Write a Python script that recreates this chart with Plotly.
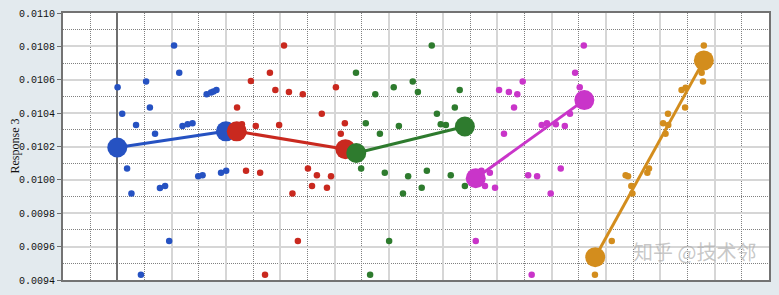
import plotly.graph_objects as go

# ---------------- data ----------------
blue_x = [0.01, 0.18, 0.69, 1.06, 1.20, 1.39, 2.09, 2.28, 2.40, 2.59, 2.77, 3.29, 3.45, 3.54, 3.65,
          0.36, 0.52, 1.57, 1.76, 1.91, 0.87, 2.98, 3.14, 3.82, 4.01]
blue_y = [0.010555, 0.010397, 0.010329, 0.010590, 0.010434, 0.010277, 0.010805, 0.010642, 0.010323,
          0.010333, 0.010339, 0.010513, 0.010523, 0.010530, 0.010538, 0.010068, 0.009918, 0.009951,
          0.009964, 0.009634, 0.009431, 0.010022, 0.010028, 0.010043, 0.010055]

red_x = [4.41, 4.59, 4.92, 5.10, 4.74, 5.26, 6.14, 5.62, 5.82, 6.32, 6.83, 5.96, 7.53, 8.05, 8.38,
         8.23, 7.02, 7.35, 7.87, 7.17, 7.72, 6.45, 6.65, 5.44]
red_y = [0.010434, 0.010333, 0.010592, 0.010323, 0.010055, 0.010043, 0.010805, 0.010642, 0.010538,
         0.010526, 0.010513, 0.010329, 0.010397, 0.010555, 0.010339, 0.010277, 0.010068, 0.010028,
         0.010022, 0.009964, 0.009953, 0.009918, 0.009634, 0.009431]

green_x = [11.58, 8.79, 9.50, 10.18, 10.88, 11.07, 12.61, 12.43, 11.77, 9.15, 9.67, 10.37, 11.91, 12.10,
           8.98, 9.85, 10.71, 11.40, 12.28, 11.21, 10.52, 12.80, 10.01, 9.31]
green_y = [0.010805, 0.010642, 0.010513, 0.010555, 0.010590, 0.010526, 0.010538, 0.010434, 0.010397,
           0.010339, 0.010277, 0.010323, 0.010333, 0.010329, 0.010068, 0.010043, 0.010022, 0.010055,
           0.010028, 0.009953, 0.009918, 0.009964, 0.009634, 0.009431]

magenta_x = [14.06, 14.42, 14.73, 14.61, 14.24, 14.93, 17.18, 16.86, 17.03, 15.63, 15.82, 16.15, 16.48,
             16.67, 13.72, 13.41, 13.54, 13.91, 13.20, 15.13, 15.46, 16.33, 15.96, 15.26]
magenta_y = [0.010538, 0.010526, 0.010513, 0.010434, 0.010277, 0.010590, 0.010805, 0.010642, 0.010555,
             0.010329, 0.010339, 0.010333, 0.010323, 0.010397, 0.010043, 0.010055, 0.009964, 0.009953,
             0.009634, 0.010028, 0.010022, 0.010068, 0.009918, 0.009431]

orange_x = [21.60, 21.52, 21.57, 20.78, 20.93, 20.91, 20.28, 20.10, 20.29, 20.19, 18.72, 18.81, 18.93,
            18.97, 19.52, 19.58, 18.21, 17.59]
orange_y = [0.010805, 0.010642, 0.010590, 0.010538, 0.010552, 0.010434, 0.010397, 0.010339, 0.010329,
            0.010277, 0.010028, 0.010022, 0.009964, 0.009918, 0.010043, 0.010068, 0.009634, 0.009431]

# group means (start, end)
mean_x = {"blue": [0.0, 4.0], "red": [4.4, 8.4], "green": [8.8, 12.8],
          "magenta": [13.2, 17.2], "orange": [17.6, 21.6]}
mean_y = {"blue": [0.010194, 0.010291], "red": [0.010291, 0.010184], "green": [0.010161, 0.010320],
          "magenta": [0.010010, 0.010478], "orange": [0.009537, 0.010716]}

y_ticks = [0.0094, 0.0096, 0.0098, 0.0100, 0.0102, 0.0104, 0.0106, 0.0108, 0.0110]

colors = {"blue": "#2652c2", "red": "#c9291f", "green": "#2e7b2e",
          "magenta": "#c935c9", "orange": "#d38d1d"}

points = {"blue": (blue_x, blue_y), "red": (red_x, red_y), "green": (green_x, green_y),
          "magenta": (magenta_x, magenta_y), "orange": (orange_x, orange_y)}

fig = go.Figure()
for name in ["blue", "red", "green", "magenta", "orange"]:
    px, py = points[name]
    c = colors[name]
    fig.add_trace(go.Scatter(x=px, y=py, mode="markers",
                             marker=dict(color=c, size=6.5, line=dict(width=0)),
                             showlegend=False, hoverinfo="skip"))
    fig.add_trace(go.Scatter(x=mean_x[name], y=mean_y[name], mode="lines+markers",
                             line=dict(color=c, width=3),
                             marker=dict(color=c, size=20, line=dict(width=0)),
                             showlegend=False))

fig.update_layout(
    width=779, height=295,
    margin=dict(l=63, r=8, t=11, b=8),
    paper_bgcolor="#e3eaee",
    plot_bgcolor="#ffffff",
    xaxis=dict(range=[-2, 24], dtick=2, tick0=0, showticklabels=False, ticks="",
               showgrid=True, gridcolor="#d6d6d6", gridwidth=2,
               minor=dict(dtick=1, tick0=0, showgrid=True, gridcolor="#808080",
                          griddash="1px,1px", gridwidth=1),
               zeroline=True, zerolinecolor="#6f6f6f", zerolinewidth=2,
               showline=True, linecolor="#737373", linewidth=2, mirror=True),
    yaxis=dict(range=[0.0094, 0.0110], tickvals=y_ticks, tickformat=".4f",
               ticks="outside", ticklen=4, tickcolor="#6f6f6f",
               tickfont=dict(family="Liberation Mono", size=10, color="#111111"),
               showgrid=True, gridcolor="#d6d6d6", gridwidth=2,
               minor=dict(dtick=0.0001, tick0=0.0094, showgrid=True, gridcolor="#808080",
                          griddash="1px,1px", gridwidth=1),
               zeroline=False,
               showline=True, linecolor="#737373", linewidth=2, mirror=True),
)

fig.add_annotation(text="Response 3", xref="paper", yref="paper", x=0, y=0.5,
                   xshift=-49, textangle=-90, showarrow=False,
                   xanchor="center", yanchor="middle",
                   font=dict(family="Liberation Serif", size=12, color="#111111"))

fig.add_annotation(text="知乎 @技术邻", xref="paper", yref="paper", x=0.985, y=0.045,
                   xanchor="right", yanchor="bottom", showarrow=False,
                   font=dict(family="Noto Sans CJK SC", size=20, color="rgba(175,175,175,0.7)"))

fig.write_html("out.html")
